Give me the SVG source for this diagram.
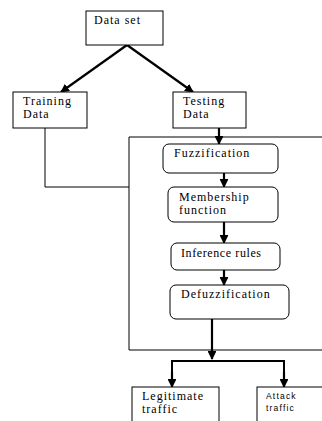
<svg xmlns="http://www.w3.org/2000/svg" width="322" height="421" viewBox="0 0 322 421">
<defs>
<marker id="ah" viewBox="0 0 10 10" refX="9" refY="5" markerWidth="4" markerHeight="4" orient="auto" markerUnits="strokeWidth">
<path d="M0,0 L10,5 L0,10 z" fill="#000"/>
</marker>
<style>
.box{fill:#fff;stroke:#000;stroke-width:1}
.t{font-family:"Liberation Serif","Times New Roman",serif;font-size:12px;letter-spacing:1px;fill:#000}
.s{font-family:"Liberation Sans",Arial,sans-serif;font-size:8.5px;letter-spacing:1.2px;fill:#000}
.ln{fill:none;stroke:#000;stroke-width:1}
.ar{fill:none;stroke:#000;stroke-width:2.2;marker-end:url(#ah)}
</style>
</defs>
<rect width="322" height="421" fill="#fff"/>
<g id="connectors">
<polyline class="ln" points="129,350 322,350"/>
<polyline class="ln" points="322,137 129,137 129,350"/>
<polyline class="ln" points="45,128 45,187 129,187"/>
<line class="ar" x1="127" y1="45" x2="61" y2="92"/>
<line class="ar" x1="127" y1="45" x2="193" y2="92"/>
<line class="ar" x1="219" y1="128" x2="219" y2="144"/>
<line class="ar" x1="224" y1="173" x2="224" y2="187"/>
<line class="ar" x1="224" y1="222" x2="224" y2="243"/>
<line class="ar" x1="224" y1="270" x2="224" y2="285"/>
<line class="ar" x1="212" y1="319" x2="212" y2="359"/>
<polyline class="ln" style="stroke-width:2" points="172,387 172,361 284,361 284,387"/>
<line class="ar" x1="172" y1="372" x2="172" y2="387"/>
<line class="ar" x1="284" y1="372" x2="284" y2="387"/>
</g>
<g id="dataset">
<rect class="box" x="86" y="11" width="77" height="34"/>
<text class="t" x="94" y="24">Data set</text>
</g>
<g id="training">
<rect class="box" x="13" y="92" width="74" height="36"/>
<text class="t" x="23" y="105">Training</text>
<text class="t" x="23" y="118">Data</text>
</g>
<g id="testing">
<rect class="box" x="173" y="92" width="73" height="36"/>
<text class="t" x="183" y="105">Testing</text>
<text class="t" x="183" y="118">Data</text>
</g>
<g id="fuzzification">
<rect class="box" x="163" y="144" width="115" height="29" rx="6"/>
<text class="t" x="174" y="157">Fuzzification</text>
</g>
<g id="membership">
<rect class="box" x="168" y="187" width="110" height="35" rx="6"/>
<text class="t" x="179" y="201">Membership</text>
<text class="t" x="179" y="214">function</text>
</g>
<g id="inference">
<rect class="box" x="171" y="243" width="109" height="27" rx="6"/>
<text class="t" x="181" y="257" style="letter-spacing:0.6px">Inference rules</text>
</g>
<g id="defuzzification">
<rect class="box" x="170" y="285" width="119" height="34" rx="6"/>
<text class="t" x="181" y="298">Defuzzification</text>
</g>
<g id="legitimate">
<rect class="box" x="132" y="387" width="87" height="40"/>
<text class="t" x="142" y="400">Legitimate</text>
<text class="t" x="142" y="413">traffic</text>
</g>
<g id="attack">
<rect class="box" x="257" y="387" width="70" height="40"/>
<text class="s" x="266" y="399">Attack</text>
<text class="s" x="266" y="411">traffic</text>
</g>
</svg>
